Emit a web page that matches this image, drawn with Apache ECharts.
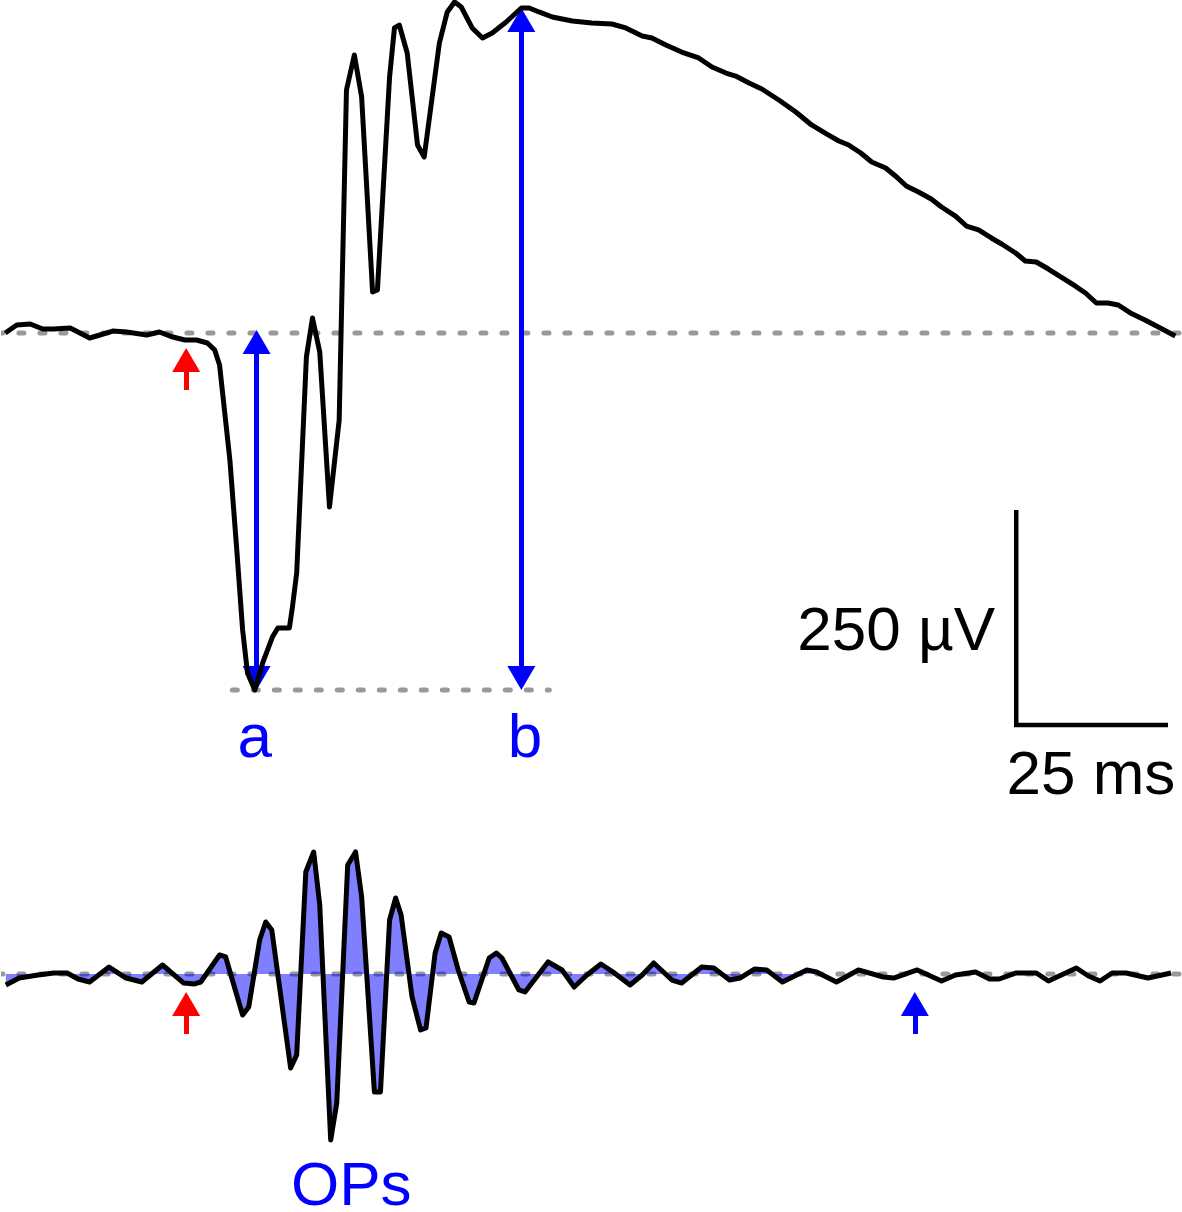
<!DOCTYPE html>
<html>
<head>
<meta charset="utf-8">
<title>ERG a/b waves and OPs</title>
<script src="https://cdn.jsdelivr.net/npm/echarts@6/dist/echarts.min.js"></script>
<style>
  html, body { margin: 0; padding: 0; background: #fff; }
  #chart { width: 1182px; height: 1212px; }
</style>
</head>
<body>
<div id="chart"></div>
<script>
// time in ms after the flash, amplitude in µV
const ergTimeMs = [-29.8, -27.9, -25.7, -23.6, -21.9, -19.1, -17.5, -15.9, -14.2, -12.1, -9.8, -6.5, -4.4, -2.2, -0.2,
  1.7, 3.5, 4.7, 5.5, 7.2, 8.3, 9.3, 10.1, 11.3, 12.6, 14.2, 15.1, 17.0, 17.5, 18.2, 19.8, 20.8, 22.0, 23.6, 25.2,
  25.7, 26.4, 27.7, 28.9, 30.7, 31.5, 33.5, 34.3, 35.1, 36.4, 38.1, 39.2, 41.7, 43.0, 44.2, 45.3, 47.1, 48.8, 50.4,
  52.7, 55.2, 56.5, 58.1, 60.3, 63.6, 66.8, 70.1, 72.4, 75.1, 76.7, 79.0, 81.6, 84.4, 86.6, 88.9, 90.5, 92.7, 94.8,
  97.6, 100.4, 103.0, 105.8, 107.5, 109.1, 111.1, 112.9, 115.2, 116.8, 118.6, 120.6, 122.7, 124.4, 126.7, 128.5,
  130.5, 132.6, 134.3, 136.6, 138.2, 140.0, 142.0, 144.1, 146.4, 148.1, 149.9, 151.8, 153.5, 155.5, 157.9, 160.1, 162.9]
const ergMicroV = [0, 9.3, 10.5, 4.7, 4.7, 5.8, 0, -5.8, -2.3, 2.3, 1.2, -2.3, 1.2, -4.7, -8.1,
  -8.1, -11.6, -19.8, -37.2, -147.7, -248.8, -345.3, -395.3, -415.1, -383.7, -353.5, -343.0, -343.0, -318.6, -279.1, -27.9, 17.4, -22.1, -202.3, -101.2,
  61.6, 282.6, 323.3, 274.4, 47.7, 50.0, 297.7, 354.7, 358.1, 325.6, 218.6, 204.7, 337.2, 373.3, 384.9, 379.1, 354.7, 343.0, 348.8,
  361.6, 377.9, 377.9, 373.3, 367.4, 362.8, 360.5, 359.3, 354.7, 345.3, 343.0, 334.9, 326.7, 319.8, 309.3, 302.3, 298.8, 290.7, 283.7,
  270.9, 257.0, 241.9, 230.2, 223.3, 218.6, 209.3, 198.8, 191.9, 182.6, 170.9, 163.9, 155.8, 146.5, 136.0, 124.4,
  119.8, 110.5, 103.5, 93.0, 83.7, 82.6, 74.4, 65.1, 54.7, 46.5, 34.9, 34.9, 32.6, 23.3, 15.1, 7.0, -3.5]

const opsTimeMs = [-29.7, -27.5, -24.4, -21.8, -19.6, -17.8, -15.9, -12.7, -9.9, -7.3, -3.9, -0.4, 1.4, 2.4,
  5.5, 6.5, 9.3, 10.3, 12.1, 13.1, 14.1, 17.2, 18.2, 19.7, 21.0, 22.0, 23.8, 24.8, 26.6, 27.9, 28.9, 31.0, 32.0,
  33.5, 34.5, 35.4, 37.2, 38.6, 39.5, 41.0, 42.0, 43.3, 44.8, 46.6, 47.4, 49.9, 51.1, 52.0, 54.8, 55.8, 59.6, 61.9,
  63.9, 66.0, 68.3, 70.3, 73.1, 75.1, 77.0, 80.0, 81.6, 84.9, 86.9, 89.5, 91.2, 93.6, 95.6, 98.2, 102.2, 103.8,
  107.1, 110.7, 114.8, 116.5, 120.4, 124.4, 126.7, 130.0, 132.3, 133.9, 136.7, 140.0, 142.0, 146.6, 148.6, 150.5,
  152.5, 154.8, 158.4, 162.2]
const opsMicroV = [-12.8, -4.7, -1.2, 1.2, 1.2, -5.8, -9.3, 8.1, -4.7, -9.3, 10.5, -10.5, -11.6, -9.3,
  22.1, 19.8, -47.7, -38.4, 39.5, 60.5, 51.2, -109.3, -94.2, 118.6, 141.9, 80.2, -193.0, -150.0, 126.7, 141.9, 89.5, -137.2, -137.2,
  62.8, 88.4, 68.6, -26.7, -65.1, -62.8, 24.4, 47.7, 43.0, 4.7, -32.6, -33.7, 18.6, 24.4, 18.6, -18.6, -20.9, 14.0, 4.7,
  -15.1, -1.2, 11.6, 2.3, -12.8, -1.2, 12.8, -7.0, -10.5, 8.1, 7.0, -7.0, -4.7, 5.8, 4.7, -9.3, 4.7, 2.3,
  -9.3, 4.7, -3.5, -4.7, 4.7, -8.1, -1.2, 2.3, -5.8, -5.8, 1.2, 1.2, -8.1, 7.0, -2.3, -8.1,
  1.2, 1.2, -4.7, 1.2]

const flashMs = 0
const opsEndMs = 120
const opsFillEndMs = 104
const aWave = [11.6, -415]
const bWave = [55.2, 378]
const scaleBarMs = 25
const scaleBarUv = 250
const scaleBarOrigin = [136.7, -455.8]

const xMin = -30, xMax = 164
const pxPerUv = 0.86
const headUv = 12 / pxPerUv   // half arrow head, so the tip lands on the point

const ergData = ergTimeMs.map((t, i) => [t, ergMicroV[i]])
const opsData = opsTimeMs.map((t, i) => [t, opsMicroV[i]])
const opsFill = opsData.filter(d => d[0] <= opsFillEndMs)

const font = "'Liberation Sans', Arial, Helvetica, sans-serif"
const dashed = { color: '#999', width: 5, type: [5, 16], cap: 'round' }
const head = { symbol: 'triangle', symbolSize: [28, 24] }

function arrow(t, from, to, color, both) {
  return [
    Object.assign({ coord: [t, from] }, both ? head : { symbol: 'none' }),
    Object.assign({ coord: [t, to] }, head, { lineStyle: { color: color, width: 5, type: 'solid' } })
  ]
}

function textPoint(name, t, v, color, position) {
  return {
    name: name,
    value: [t, v],
    label: { color: color, position: position || 'inside', distance: 0 }
  }
}

const textLabel = {
  show: true, formatter: '{b}', fontSize: 62, fontFamily: font,
  textBorderWidth: 0, textBorderColor: 'transparent', opacity: 1
}

const chart = echarts.init(document.getElementById('chart'))
chart.setOption({
  animation: false,
  backgroundColor: '#fff',
  grid: [
    { left: 4, width: 1180, top: 0, height: 860 },
    { left: 4, width: 1180, top: 800, height: 412 }
  ],
  xAxis: [
    { type: 'value', gridIndex: 0, min: xMin, max: xMax, show: false },
    { type: 'value', gridIndex: 1, min: xMin, max: xMax, show: false }
  ],
  yAxis: [
    { type: 'value', gridIndex: 0, min: 333 / pxPerUv - 1000, max: 333 / pxPerUv, show: false },
    { type: 'value', gridIndex: 1, min: 174 / pxPerUv - 412 / pxPerUv, max: 174 / pxPerUv, show: false }
  ],
  series: [
    // baselines
    {
      type: 'line', xAxisIndex: 0, yAxisIndex: 0, symbol: 'none', z: 1,
      data: [[xMin - 1, 0], [xMax, 0]], lineStyle: dashed, clip: false
    },
    {
      type: 'line', xAxisIndex: 0, yAxisIndex: 0, symbol: 'none', z: 1,
      data: [[7.6, aWave[1]], [59.8, aWave[1]]], lineStyle: dashed
    },
    {
      type: 'line', xAxisIndex: 1, yAxisIndex: 1, symbol: 'none', z: 1,
      data: [[xMin - 1, 0], [xMax, 0]], lineStyle: dashed, clip: false
    },
    // OPs shading
    {
      type: 'line', xAxisIndex: 1, yAxisIndex: 1, symbol: 'none', z: 2,
      data: opsFill, lineStyle: { width: 0 },
      areaStyle: { color: 'rgba(0, 0, 255, 0.5)', opacity: 1 }
    },
    // traces
    {
      name: 'ERG', type: 'line', xAxisIndex: 0, yAxisIndex: 0, symbol: 'none', z: 5,
      data: ergData, lineStyle: { color: '#000', width: 5, join: 'round' }
    },
    {
      name: 'OPs', type: 'line', xAxisIndex: 1, yAxisIndex: 1, symbol: 'none', z: 5,
      data: opsData, lineStyle: { color: '#000', width: 5, join: 'round' }
    },
    // scale bar
    {
      type: 'line', xAxisIndex: 0, yAxisIndex: 0, symbol: 'none', z: 5,
      data: [
        [scaleBarOrigin[0], scaleBarOrigin[1] + scaleBarUv],
        scaleBarOrigin,
        [scaleBarOrigin[0] + scaleBarMs, scaleBarOrigin[1]]
      ],
      lineStyle: { color: '#000', width: 4.5, join: 'miter', cap: 'butt' }
    },
    // arrows on the ERG
    {
      type: 'line', xAxisIndex: 0, yAxisIndex: 0, data: [], z: 6,
      markLine: {
        silent: true, label: { show: false },
        data: [
          arrow(flashMs, -66.3, -17.4 - headUv, '#f00', false),
          arrow(aWave[0], aWave[1] + headUv, 3.5 - headUv, '#00f', true),
          arrow(bWave[0], aWave[1] + headUv, bWave[1] - headUv, '#00f', true)
        ]
      }
    },
    // arrows on the OPs
    {
      type: 'line', xAxisIndex: 1, yAxisIndex: 1, data: [], z: 6,
      markLine: {
        silent: true, label: { show: false },
        data: [
          arrow(flashMs, -69.8, -20.9 - headUv, '#f00', false),
          arrow(opsEndMs, -69.8, -20.9 - headUv, '#00f', false)
        ]
      }
    },
    // text
    {
      type: 'scatter', xAxisIndex: 0, yAxisIndex: 0, symbolSize: 1, z: 7,
      itemStyle: { color: 'rgba(0,0,0,0)' },
      label: textLabel,
      data: [
        textPoint('a', 11.3, -473, '#00f'),
        textPoint('b', 55.8, -473, '#00f'),
        textPoint('250 µV', 133.3, -348.8, '#000', 'left'),
        textPoint('25 ms', 149.0, -516.3, '#000')
      ]
    },
    {
      type: 'scatter', xAxisIndex: 1, yAxisIndex: 1, symbolSize: 1, z: 7,
      itemStyle: { color: 'rgba(0,0,0,0)' },
      label: textLabel,
      data: [textPoint('OPs', 27.2, -248.8, '#00f')]
    }
  ]
})
</script>
</body>
</html>
